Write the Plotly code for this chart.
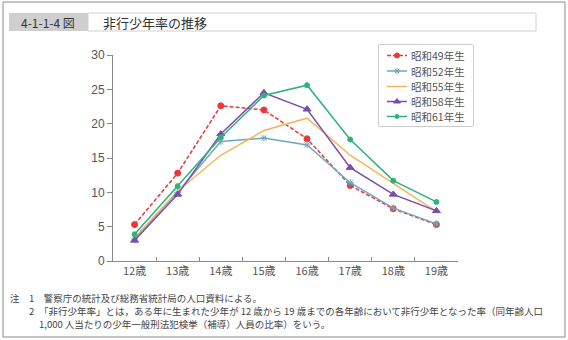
import plotly.graph_objects as go

ages = ["12歳", "13歳", "14歳", "15歳", "16歳", "17歳", "18歳", "19歳"]

s49 = [5.3, 12.8, 22.6, 22.0, 17.8, 11.0, 7.6, 5.3]
s52 = [3.2, 10.0, 17.4, 17.9, 16.9, 11.4, 7.7, 5.4]
s55 = [3.4, 10.2, 15.4, 19.0, 20.8, 15.4, 11.3, 7.2]
s58 = [3.0, 9.7, 18.5, 24.5, 22.1, 13.6, 9.7, 7.3]
s61 = [3.9, 10.9, 18.0, 24.1, 25.6, 17.7, 11.7, 8.6]

series_names = ["昭和49年生", "昭和52年生", "昭和55年生", "昭和58年生", "昭和61年生"]
yticks = [0, 5, 10, 15, 20, 25, 30]

W, H = 568, 340
# paper area (pixels) covering both the plot and the legend box
L, R, T, B = 113, 473, 45, 261
# plot area inside it
PL, PR, PT, PB = 113, 458, 55, 261


def px(x):
    return (x - L) / (R - L)


def py(y):
    return (B - y) / (B - T)


JP = "Noto Sans CJK JP"

styles = [
    dict(color="#e8383d", dash="4px,2px", symbol="circle", size=6),
    dict(color="#6ea8bf", dash="solid", symbol="asterisk-open", size=6),
    dict(color="#f3b55c", dash="solid", symbol=None, size=0),
    dict(color="#7a4ea9", dash="solid", symbol="triangle-up", size=7),
    dict(color="#2eb27d", dash="solid", symbol="circle", size=5),
]

fig = go.Figure()


def marker_for(st, size=None):
    if not st["symbol"]:
        return None
    return dict(symbol=st["symbol"], size=size or st["size"], color=st["color"],
                line=dict(color=st["color"], width=1))


for name, vals, st in zip(series_names, [s49, s52, s55, s58, s61], styles):
    fig.add_trace(go.Scatter(
        x=ages, y=vals, name=name, mode="lines+markers" if st["symbol"] else "lines",
        line=dict(color=st["color"], width=1.5, dash=st["dash"]),
        marker=marker_for(st), showlegend=False,
    ))

# compact legend drawn on its own small axis (pixel-like units)
LG_X0, LG_X1, LG_Y0, LG_Y1 = 379, 473, 45, 126
row_y = [55.5, 71, 86.5, 101.5, 116.5]
annotations = []
for name, st, yy in zip(series_names, styles, row_y):
    fig.add_trace(go.Scatter(
        x=[387, 407], y=[yy, yy], mode="lines", xaxis="x2", yaxis="y2",
        line=dict(color=st["color"], width=1.5, dash=st["dash"]),
        showlegend=False, hoverinfo="skip",
    ))
    if st["symbol"]:
        fig.add_trace(go.Scatter(
            x=[397], y=[yy], mode="markers", xaxis="x2", yaxis="y2",
            marker=marker_for(st, max(st["size"] - 1, 4)), showlegend=False, hoverinfo="skip",
        ))
    annotations.append(dict(xref="x2", yref="y2", x=409, y=yy, text=name, showarrow=False,
                            xanchor="left", yanchor="middle",
                            font=dict(family=JP, size=10.5, color="#555555")))

shapes = [
    # outer frame
    dict(type="rect", xref="paper", yref="paper", x0=px(3), x1=px(565), y0=py(337), y1=py(2),
         line=dict(color="#8a8a8a", width=1), fillcolor="rgba(0,0,0,0)", layer="below"),
    # figure number box
    dict(type="rect", xref="paper", yref="paper", x0=px(9), x1=px(88), y0=py(31), y1=py(13),
         line=dict(width=0), fillcolor="#cfcfcf", layer="below"),
    # title box
    dict(type="rect", xref="paper", yref="paper", x0=px(88), x1=px(536), y0=py(31), y1=py(13),
         line=dict(color="#d0d0d0", width=1), fillcolor="#ffffff", layer="below"),
    # legend box
    dict(type="rect", xref="paper", yref="paper", x0=px(LG_X0), x1=px(LG_X1), y0=py(LG_Y1), y1=py(LG_Y0),
         line=dict(color="#999999", width=1), fillcolor="#ffffff", layer="below"),
]

notes = [
    (8, 298, "注　1　警察庁の統計及び総務省統計局の人口資料による。"),
    (27, 311, "2　「非行少年率」とは，ある年に生まれた少年が 12 歳から 19 歳までの各年齢において非行少年となった率（同年齢人口"),
    (37, 324, "1,000 人当たりの少年一般刑法犯検挙（補導）人員の比率）をいう。"),
]
annotations += [
    dict(xref="paper", yref="paper", x=px(48), y=py(22), text="4-1-1-4 図", showarrow=False,
         xanchor="center", yanchor="middle", font=dict(family=JP, size=12, color="#333333")),
    dict(xref="paper", yref="paper", x=px(101), y=py(22), text="非行少年率の推移", showarrow=False,
         xanchor="left", yanchor="middle", font=dict(family=JP, size=13, color="#333333")),
]
for x, y, t in notes:
    annotations.append(dict(xref="paper", yref="paper", x=px(x), y=py(y), text=t, showarrow=False,
                            xanchor="left", yanchor="middle",
                            font=dict(family=JP, size=9.5, color="#444444")))

fig.update_layout(
    width=W, height=H,
    margin=dict(l=L, r=W - R, t=T, b=H - B),
    paper_bgcolor="white", plot_bgcolor="white",
    font=dict(family=JP, size=11, color="#444444"),
    showlegend=False,
    xaxis=dict(domain=[px(PL), px(PR)], showline=True, linecolor="#888888", linewidth=1, showgrid=False,
               ticks="inside", ticklen=4, tickcolor="#888888", tickson="boundaries",
               tickfont=dict(size=11, color="#555555"), range=[-0.5, 7.5]),
    yaxis=dict(domain=[py(PB), py(PT)], showline=True, linecolor="#888888", linewidth=1,
               showgrid=False, zeroline=False,
               range=[0, 30], tickvals=yticks, ticks="outside", ticklen=5, tickcolor="#888888",
               tickfont=dict(family="Liberation Sans", size=12, color="#555555")),
    xaxis2=dict(domain=[px(LG_X0), px(LG_X1)], range=[LG_X0, LG_X1], anchor="y2",
                visible=False, fixedrange=True),
    yaxis2=dict(domain=[py(LG_Y1), py(LG_Y0)], range=[LG_Y1, LG_Y0], anchor="x2",
                visible=False, fixedrange=True),
    shapes=shapes,
    annotations=annotations,
)

fig.write_html("out.html")
